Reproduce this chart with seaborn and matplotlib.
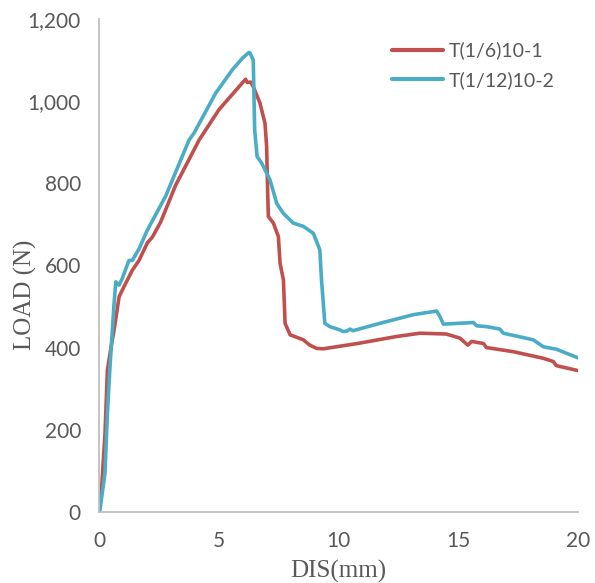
import numpy as np
import pandas as pd
import matplotlib
matplotlib.use("Agg")
import matplotlib.pyplot as plt
from matplotlib.ticker import MultipleLocator, FuncFormatter
import seaborn as sns

series_names = ["T(1/6)10-1", "T(1/12)10-2"]
colors = ["#C0504D", "#4BACC6"]

red_dis = [0, 0.1, 0.25, 0.35, 0.5, 0.63, 0.84, 1.11, 1.39, 1.67, 2.02, 2.23, 2.57, 3.2,
           4.18, 5.01, 5.85, 6.12, 6.19, 6.33, 6.44, 6.72, 6.93, 7.0, 7.03, 7.07, 7.28,
           7.49, 7.56, 7.7, 7.77, 7.98, 8.53, 8.8, 9.09, 9.36, 10.8, 12.43, 13.4, 14.5,
           15.07, 15.4, 15.56, 16.05, 16.18, 17.3, 18.55, 18.97, 19.1, 20.0]
red_load = [0, 50, 190, 345, 400, 443, 524, 556, 588, 612, 655, 669, 705, 795,
            905, 979, 1035, 1053, 1045, 1046, 1035, 995, 946, 889, 808, 719, 703,
            670, 605, 565, 459, 431, 419, 406, 398, 397, 410, 427, 435, 433,
            423, 406, 415, 410, 400, 390, 374, 366, 356, 344]

blue_dis = [0, 0.04, 0.25, 0.35, 0.45, 0.63, 0.70, 0.84, 0.97, 1.25, 1.39, 1.67, 2.02,
            2.78, 3.76, 3.97, 4.87, 5.57, 6.0, 6.26, 6.3, 6.44, 6.5, 6.6, 6.79, 7.14,
            7.42, 7.69, 8.11, 8.53, 8.95, 9.22, 9.29, 9.43, 9.64, 10.06, 10.2, 10.34,
            10.48, 10.6, 11.73, 13.12, 14.1, 14.24, 14.38, 15.63, 15.77, 16.18, 16.74,
            16.88, 18.13, 18.55, 19.1, 20.0]
blue_load = [0, 5, 95, 240, 345, 508, 560, 552, 568, 612, 612, 640, 686,
             768, 905, 922, 1019, 1076, 1105, 1118, 1117, 1100, 930, 865, 849, 808,
             751, 727, 703, 695, 678, 638, 565, 459, 451, 443, 439, 440,
             445, 441, 459, 480, 489, 475, 457, 461, 453, 451, 445,
             435, 419, 402, 396, 375]

df = pd.concat([
    pd.DataFrame({"DIS": red_dis, "LOAD": red_load, "series": series_names[0]}),
    pd.DataFrame({"DIS": blue_dis, "LOAD": blue_load, "series": series_names[1]}),
], ignore_index=True)

sns.set_style("white")
fig = plt.figure(figsize=(5.95, 5.83), dpi=100)
ax = fig.add_axes([0.1664, 0.1218, 0.805, 0.846])

sns.lineplot(data=df, x="DIS", y="LOAD", hue="series", hue_order=series_names,
             palette=colors, sort=False, estimator=None, linewidth=2.6, ax=ax)

ax.set_xlim(0, 20)
ax.set_ylim(0, 1200)
ax.xaxis.set_major_locator(MultipleLocator(5))
ax.xaxis.set_minor_locator(MultipleLocator(1))
ax.yaxis.set_major_locator(MultipleLocator(200))
ax.yaxis.set_minor_locator(MultipleLocator(40))
ax.yaxis.set_major_formatter(FuncFormatter(lambda v, p: f"{int(v):,}"))

for s in ["top", "right"]:
    ax.spines[s].set_visible(False)
for s in ["left", "bottom"]:
    ax.spines[s].set_color("#BFBFBF")
    ax.spines[s].set_linewidth(1.3)

tick_font = "Lato"
ax.tick_params(which="both", direction="in", color="#BFBFBF", width=1.1,
               labelcolor="#595959", labelsize=15)
ax.tick_params(which="both", length=4)
ax.tick_params(axis="y", which="major", pad=13)
ax.tick_params(axis="x", which="major", pad=14)
for lab in ax.get_xticklabels() + ax.get_yticklabels():
    lab.set_fontfamily(tick_font)

ax.set_xlabel("DIS(mm)", fontfamily="Liberation Serif", fontsize=18, color="#595959")
ax.set_ylabel("LOAD (N)", fontfamily="Liberation Serif", fontsize=18, color="#595959")
ax.xaxis.set_label_coords(0.5, -0.098)
ax.yaxis.set_label_coords(-0.13, 0.44)

leg = ax.legend(loc="upper left", bbox_to_anchor=(0.63, 0.959), bbox_transform=fig.transFigure,
                frameon=False, handlelength=2.6, handletextpad=0.3, labelspacing=0.6,
                prop={"family": tick_font, "size": 14})
for t in leg.get_texts():
    t.set_color("#595959")
for l in leg.get_lines():
    l.set_linewidth(3)

fig.savefig("out.png", dpi=100)
